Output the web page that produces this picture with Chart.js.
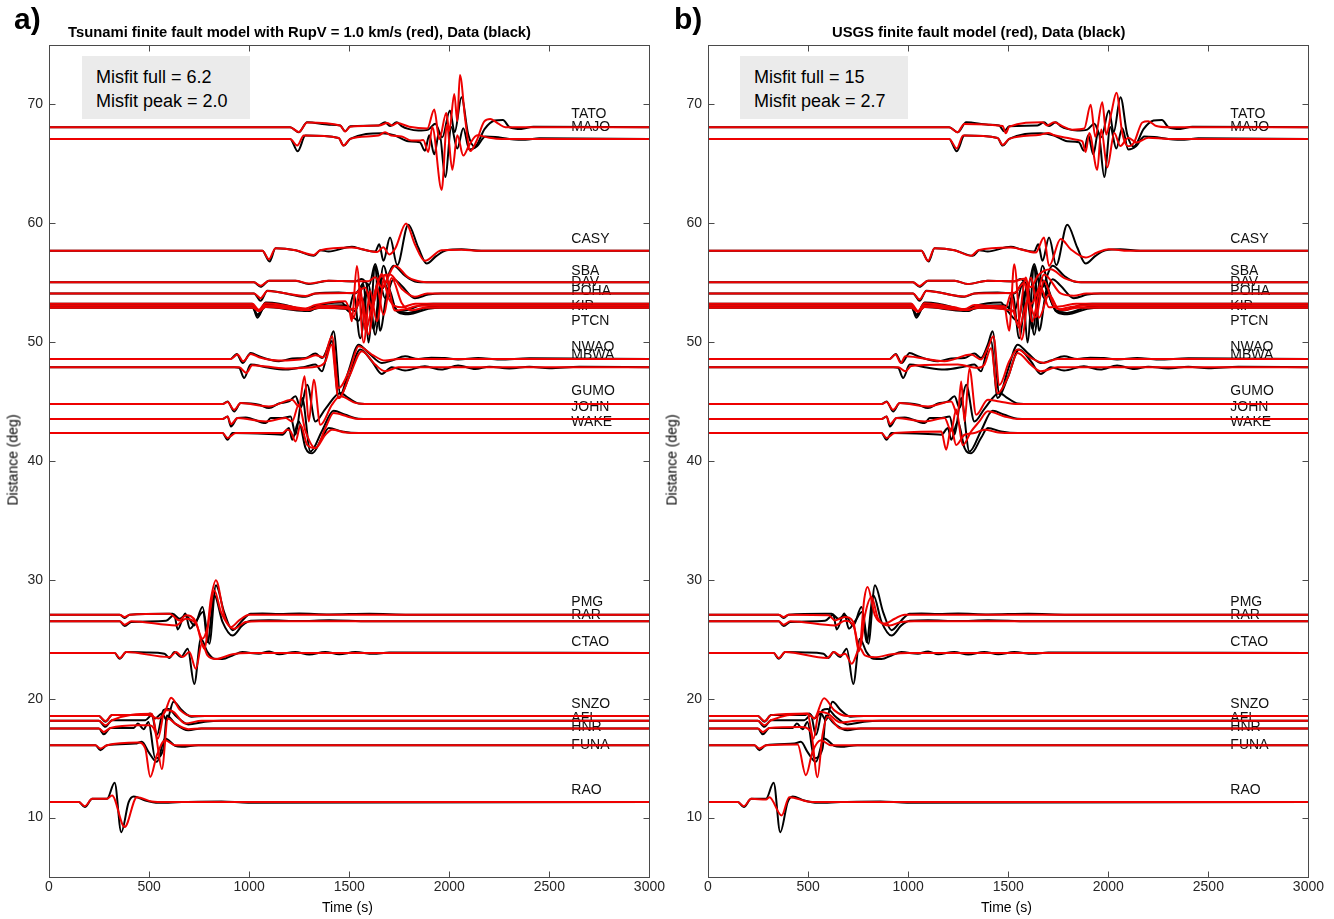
<!DOCTYPE html>
<html>
<head>
<meta charset="utf-8">
<script src="https://cdn.jsdelivr.net/npm/chart.js@4.4.1/dist/chart.umd.min.js"></script>
<style>
    body { margin: 0; background: #fff; width: 1334px; height: 919px; position: relative; overflow: hidden; font-family: "Liberation Sans", Arial, sans-serif; color: #000; }
    .panel { position: absolute; top: 0; width: 667px; height: 919px; }
    .letter { position: absolute; top: 2px; font-size: 30px; font-weight: bold; }
    .title { position: absolute; top: 24px; font-size: 14.8px; font-weight: bold; white-space: nowrap; }
    .misfit { position: absolute; top: 56px; width: 168px; height: 63px; background: #ebebeb; box-sizing: border-box; padding: 9px 0 0 14px; font-size: 18px; line-height: 24px; }
    .xtitle { position: absolute; top: 899px; font-size: 14px; }
    .ytitle { position: absolute; top: 452px; font-size: 14px; transform: rotate(-90deg); transform-origin: center; white-space: nowrap; }
</style>
</head>
<body>
<div class="panel" style="left:0"><canvas id="chartA" width="667" height="919"></canvas></div>
<div class="panel" style="left:659px"><canvas id="chartB" width="667" height="919"></canvas></div>

<div class="letter" style="left:14px">a)</div>
<div class="letter" style="left:674px">b)</div>
<div class="title" style="left:68px">Tsunami finite fault model with RupV = 1.0 km/s (red), Data (black)</div>
<div class="title" style="left:832px">USGS finite fault model (red), Data (black)</div>
<div class="misfit" style="left:82px">Misfit full = 6.2<br>Misfit peak = 2.0</div>
<div class="misfit" style="left:740px">Misfit full = 15<br>Misfit peak = 2.7</div>
<div class="xtitle" style="left:322px">Time (s)</div>
<div class="xtitle" style="left:981px">Time (s)</div>
<div class="ytitle" style="left:-33px">Distance (deg)</div>
<div class="ytitle" style="left:626px">Distance (deg)</div>

<script>
// axes
const xTicks = [0, 500, 1000, 1500, 2000, 2500, 3000];
const yTicks = [10, 20, 30, 40, 50, 60, 70];

// stations, trace baselines (deg) and label heights (deg)
const stations = ['TATO', 'MAJO', 'CASY', 'SBA', 'DAV', 'POHA', 'KIP', 'PTCN', 'NWAO', 'MBWA', 'GUMO', 'JOHN', 'WAKE',
    'PMG', 'RAR', 'CTAO', 'SNZO', 'AFI', 'HNR', 'FUNA', 'RAO'];
const baselines = [68.08, 67.1, 57.68, 55.03, 54.1, 53.23, 53.06, 52.9, 48.59, 47.89, 44.79, 43.53, 42.35,
    27.07, 26.51, 23.84, 18.54, 18.14, 17.49, 16.09, 11.3];
const labelAt = [69.16, 68.06, 58.63, 56.0, 55.09, 54.25, 53.07, 51.73, 49.6, 48.94, 45.9, 44.55, 43.3,
    28.14, 27.04, 24.76, 19.54, 18.36, 17.6, 16.08, 12.29];

// traces: [time (s), deflection from baseline (deg)]
// data (black), same in both panels
const obsTATO = [[0,0],[1205,0],[1248,-0.42],[1290,0.42],[1400,0.22],[1455,0.14],[1480,-0.34],[1505,0.08],[1646,0.14],[1679,0.42],[1704,0.1],[1737,0.42],[1762,0.1],[1795,-0.14],[1845,-0.28],[1895,-0.2],[1930,0.3],[1965,-0.84],[2003,1.41],[2027,-0.42],[2061,2.53],[2094,-0.56],[2127,-1.63],[2177,-0.14],[2226,0.56],[2268,0.62],[2301,0],[2360,-0.14],[2420,0.05],[3000,0]];
const obsMAJO = [[0,0],[1205,0],[1243,-1.04],[1281,0.28],[1447,0.08],[1472,-0.56],[1505,0],[1663,0.48],[1729,0.28],[1795,-0.2],[1853,-0.28],[1878,-1.0],[1900,0.3],[1925,-1.3],[1950,0.6],[1980,-3.2],[2010,1.0],[2040,-0.8],[2070,0.9],[2100,-0.9],[2140,-0.6],[2180,0.2],[2230,0.15],[2300,0],[2380,-0.08],[2450,0.05],[3000,0]];
const obsCASY = [[0,0],[1066,0],[1102,-0.9],[1132,0.22],[1232,0.05],[1323,-0.42],[1356,0.05],[1397,-0.05],[1513,0.34],[1563,0.14],[1630,-0.05],[1650,0.56],[1671,-0.84],[1704,1.12],[1740,-1.2],[1795,2.2],[1845,0.28],[1887,-1.07],[1936,-0.42],[1986,0.05],[2061,0.14],[2160,0],[3000,0]];
const obsSBA = [[0,0],[1024,0],[1057,-0.37],[1099,0.14],[1232,0.14],[1298,-0.14],[1397,0.14],[1530,0.08],[1563,0.28],[1600,-0.2],[1630,1.55],[1663,-0.56],[1721,1.4],[1779,0.56],[1828,0.08],[1900,0],[3000,0]];
const obsDAV = [[0,0],[1024,0],[1057,-0.62],[1091,0.22],[1150,0.1],[1281,-0.28],[1331,0],[1447,0.08],[1530,0],[1580,1.0],[1613,-1.5],[1646,1.3],[1679,-0.4],[1721,1.2],[1762,0.65],[1828,-0.4],[1895,-0.1],[1960,0],[3000,0]];
const obsPOHA = [[0,0],[1016,0],[1041,-1.0],[1082,0.1],[1150,0],[1232,-0.34],[1281,-0.56],[1331,-0.2],[1397,0.05],[1464,0.1],[1497,-0.6],[1522,0.8],[1555,-2.9],[1596,1.6],[1630,-2.6],[1671,3.2],[1712,0.3],[1746,-0.6],[1795,-0.5],[1860,-0.1],[1920,0],[3000,0]];
const obsKIP = [[0,0],[1016,0],[1041,-1.0],[1082,0.1],[1232,-0.22],[1298,-0.45],[1356,0],[1480,0.05],[1530,-0.45],[1572,1.8],[1596,-3.1],[1630,3.35],[1654,-2.1],[1696,1.5],[1737,-0.45],[1795,-0.6],[1895,-0.1],[1960,0],[3000,0]];
const obsPTCN = [[0,0],[1016,0],[1041,-0.56],[1082,0.05],[1281,-0.28],[1356,0],[1480,-0.1],[1547,-1.1],[1588,1.4],[1621,-1.8],[1663,2.5],[1696,1.3],[1746,-0.4],[1795,-0.56],[1895,-0.1],[1960,0],[3000,0]];
const obsNWAO = [[0,0],[908,0],[938,0.42],[967,-0.34],[1008,0.5],[1049,0.22],[1099,-0.05],[1149,-0.2],[1215,0.03],[1282,0.08],[1331,0.45],[1364,0.08],[1398,1.2],[1422,2.33],[1456,-3.0],[1497,-1.0],[1547,1.2],[1597,0.5],[1663,-0.34],[1713,-0.14],[1779,0.22],[1845,0],[1910,0.1],[1978,0.08],[2044,-0.05],[2144,0.08],[2250,-0.05],[2400,0.05],[3000,0]];
const obsMBWA = [[0,0],[925,0],[950,-0.05],[975,-0.9],[1008,0.22],[1083,0],[1182,-0.2],[1282,0.05],[1331,0.22],[1364,-0.34],[1389,1.07],[1414,2.2],[1447,-2.6],[1497,-0.9],[1555,1.5],[1613,0.5],[1663,-0.56],[1713,0],[1779,-0.28],[1878,0.08],[1960,-0.2],[2044,0.15],[2130,-0.15],[2200,0.05],[2300,-0.1],[2400,0.05],[2500,-0.08],[2650,0.05],[3000,0]];
const obsGUMO = [[0,0],[867,0],[892,0.22],[925,-0.62],[958,0.08],[1049,-0.05],[1099,-0.34],[1149,0.05],[1199,0.22],[1232,0.65],[1257,-0.34],[1290,1.63],[1331,-1.46],[1381,-0.4],[1456,0.93],[1497,0.5],[1547,0.05],[1620,0],[3000,0]];
const obsJOHN = [[0,0],[867,0],[892,0.22],[909,-0.62],[942,0.08],[983,0.14],[1083,-0.34],[1108,0.08],[1166,0.08],[1207,0.22],[1232,-1.3],[1265,1.77],[1306,-2.73],[1364,-1.0],[1422,0.7],[1481,0.36],[1547,0.03],[1600,0],[3000,0]];
const obsWAKE = [[0,0],[867,0],[892,-0.56],[917,0],[1099,-0.08],[1166,-0.14],[1199,0.42],[1215,-0.56],[1248,1.0],[1282,-1.27],[1315,-1.7],[1364,-0.42],[1398,0.42],[1464,0.14],[1547,0],[3000,0]];
const obsPMG = [[0,0],[353,0],[378,-0.28],[403,0],[585,0.08],[618,0.08],[651,-0.34],[684,-0.05],[726,-0.9],[767,0.65],[801,-2.45],[834,2.47],[875,0.22],[917,-1.3],[966,-0.48],[1008,0.08],[1066,0.1],[1150,0.05],[1250,0.1],[1400,0.02],[1600,0.08],[1800,0],[3000,0]];
const obsRAR = [[0,0],[353,0],[378,-0.4],[411,-0.05],[585,0.05],[626,0.56],[643,-0.68],[681,0.65],[704,-0.62],[734,0],[771,0.8],[792,-1.75],[826,2.2],[867,-0.05],[917,-1.2],[966,-0.34],[1008,0.05],[1100,0.1],[1250,0.02],[1400,0.1],[1600,0],[3000,0]];
const obsCTAO = [[0,0],[328,0],[353,-0.48],[386,0.08],[486,0.05],[577,-0.05],[602,-0.42],[627,0.08],[660,-0.34],[693,0.37],[726,-2.6],[759,1.2],[792,0.08],[826,-0.48],[867,-0.5],[917,-0.2],[966,0.08],[1049,-0.05],[1100,0.14],[1150,-0.1],[1230,0.1],[1300,-0.12],[1380,0.1],[1450,-0.1],[1530,0.08],[1620,-0.06],[1700,0.05],[3000,0]];
const obsSNZO = [[0,0],[249,0],[282,-0.48],[315,0.08],[481,0.08],[506,0.22],[531,-0.2],[564,0.22],[589,-0.34],[622,1.2],[663,0.5],[713,-0.05],[780,0],[3000,0]];
const obsAFI = [[0,0],[249,0],[282,-0.5],[315,0.05],[481,0.05],[514,0.48],[539,-1.2],[572,0.9],[597,1.0],[638,0.34],[696,-0.3],[779,-0.08],[860,0],[3000,0]];
const obsHNR = [[0,0],[249,0],[274,-0.48],[307,0.05],[423,0.05],[444,0.42],[473,-0.05],[497,0.56],[531,-2.5],[572,-1.7],[589,1.1],[630,0.42],[696,-0.14],[763,0],[3000,0]];
const obsFUNA = [[0,0],[232,0],[257,-0.42],[290,0],[431,0.14],[464,0.28],[497,-0.56],[539,-1.4],[580,0.56],[630,-0.05],[663,-0.14],[746,0],[3000,0]];
const obsRAO = [[0,0],[149,0],[179,-0.42],[216,0.28],[290,0.28],[328,1.63],[361,-2.53],[398,0],[423,0.48],[481,0.14],[547,-0.05],[663,0],[862,0.05],[995,-0.05],[3000,0]];

// tsunami finite fault model (red, panel a)
const tsuTATO = [[0,0],[1205,0],[1248,-0.4],[1290,0.4],[1455,0.15],[1480,-0.35],[1505,0.05],[1650,0.15],[1690,0.35],[1715,0.15],[1740,0.35],[1800,0.05],[1890,-0.1],[1925,1.5],[1950,-1.0],[1985,1.2],[2000,-0.3],[2025,2.8],[2040,0.5],[2053,4.4],[2080,0.6],[2105,-2.0],[2135,-1.2],[2175,0.5],[2205,0.7],[2245,0.3],[2280,0],[3000,0]];
const tsuMAJO = [[0,0],[1205,0],[1240,-0.56],[1273,0.28],[1447,0.08],[1472,-0.56],[1505,0],[1646,0.28],[1679,0.56],[1710,0.28],[1762,0.2],[1812,-0.14],[1853,-0.14],[1870,-0.1],[1895,-1.1],[1915,1.0],[1962,-4.3],[1988,1.2],[2015,-2.6],[2040,0.3],[2070,-1.4],[2100,-0.5],[2140,0.3],[2200,0.1],[2260,0],[3000,0]];
const tsuCASY = [[0,0],[1066,0],[1099,-0.7],[1132,0.22],[1232,0.05],[1323,-0.34],[1356,0.05],[1513,0.28],[1640,-0.1],[1670,0.3],[1700,-0.3],[1730,0.2],[1784,2.3],[1828,0.56],[1878,-0.84],[1961,0.05],[2061,0.1],[2150,0],[3000,0]];
const tsuSBA = [[0,0],[1024,0],[1057,-0.28],[1099,0.14],[1232,0.14],[1298,-0.1],[1397,0.14],[1530,0.1],[1596,0.1],[1630,0.42],[1663,-0.42],[1729,1.4],[1795,0.42],[1862,0.05],[1920,0],[3000,0]];
const tsuDAV = [[0,0],[1024,0],[1057,-0.4],[1091,0.2],[1281,-0.22],[1331,0],[1530,0.05],[1580,0.5],[1613,-1.2],[1654,1.35],[1704,1.6],[1762,0.4],[1828,-0.28],[1890,0],[3000,0]];
const tsuPOHA = [[0,0],[1016,0],[1049,-0.5],[1082,0.05],[1232,-0.3],[1281,-0.4],[1331,-0.1],[1480,0.22],[1522,-1.2],[1555,1.35],[1580,-2.2],[1630,1.1],[1663,2.5],[1696,0.5],[1762,-0.3],[1830,0],[3000,0]];
const tsuKIP = [[0,0],[1016,0],[1049,-0.45],[1082,0.05],[1232,-0.2],[1298,-0.35],[1356,0],[1497,-0.15],[1513,-1.3],[1538,3.35],[1572,-3.1],[1605,1.24],[1638,-1.3],[1679,2.6],[1729,-0.4],[1779,-0.3],[1850,0],[3000,0]];
const tsuPTCN = [[0,0],[1016,0],[1049,-0.28],[1082,0.05],[1281,-0.2],[1356,0],[1530,-0.1],[1563,0.84],[1596,-2.25],[1638,1.7],[1671,-0.6],[1712,2.5],[1762,0.4],[1812,-0.22],[1880,0],[3000,0]];
const tsuNWAO = [[0,0],[908,0],[942,0.37],[970,-0.2],[1008,0.42],[1049,0.14],[1149,-0.14],[1282,0.03],[1331,0.3],[1372,0.14],[1414,1.9],[1447,-2.45],[1505,-0.77],[1547,1.07],[1613,0.37],[1679,-0.14],[1746,0],[3000,0]];
const tsuMBWA = [[0,0],[950,0],[986,-0.48],[1016,0.17],[1182,-0.1],[1348,0.08],[1381,0.5],[1411,1.9],[1447,-2.6],[1505,-0.6],[1563,1.35],[1630,0.22],[1679,-0.34],[1746,0],[3000,0]];
const tsuGUMO = [[0,0],[867,0],[892,0.17],[925,-0.48],[958,0.08],[1099,-0.2],[1215,0.37],[1248,-0.2],[1277,2.33],[1298,-1.46],[1323,2.05],[1356,-1.75],[1414,-0.05],[1456,0.65],[1530,0.1],[1600,0],[3000,0]];
const tsuJOHN = [[0,0],[867,0],[892,0.22],[909,-0.42],[942,0.08],[1083,-0.2],[1182,0.08],[1215,-0.2],[1248,1.2],[1282,-1.04],[1331,-2.45],[1381,-0.76],[1422,0.5],[1490,0.22],[1547,0],[3000,0]];
const tsuWAKE = [[0,0],[867,0],[892,-0.42],[933,0],[1166,0],[1190,0.28],[1207,0.14],[1232,-0.7],[1257,0.7],[1290,-1.0],[1331,-1.27],[1381,-0.14],[1414,0.28],[1481,0.05],[1547,0],[3000,0]];
const tsuPMG = [[0,0],[353,0],[378,-0.2],[403,0],[602,0.08],[651,-0.48],[684,-0.05],[734,-0.62],[776,-2.87],[809,1.35],[834,2.9],[875,-0.05],[908,-1.04],[950,-0.48],[1000,0],[3000,0]];
const tsuRAR = [[0,0],[353,0],[378,-0.28],[411,0],[635,-0.34],[684,0.22],[734,-0.2],[767,-1.46],[792,-0.5],[826,2.6],[859,0.8],[925,-0.62],[983,-0.05],[1050,0],[3000,0]];
const tsuCTAO = [[0,0],[328,0],[353,-0.42],[386,0.08],[602,-0.34],[635,0.08],[668,-0.34],[701,0.08],[734,-1.32],[764,0.8],[792,-0.2],[834,-0.5],[917,-0.1],[1000,0],[3000,0]];
const tsuSNZO = [[0,0],[249,0],[282,-0.42],[315,0.08],[497,0.08],[547,-0.2],[580,0.37],[610,1.55],[655,0.5],[713,0],[3000,0]];
const tsuAFI = [[0,0],[249,0],[282,-0.37],[315,0.05],[514,0.6],[544,-1.5],[580,0.9],[622,0.76],[680,-0.22],[763,0],[3000,0]];
const tsuHNR = [[0,0],[249,0],[274,-0.28],[307,0.05],[448,0.28],[497,0.28],[531,-0.28],[564,-3.4],[594,0.84],[630,0.42],[696,-0.05],[760,0],[3000,0]];
const tsuFUNA = [[0,0],[232,0],[257,-0.28],[290,0],[448,0.22],[481,-0.28],[506,-2.67],[539,-0.84],[580,0.42],[630,0],[3000,0]];
const tsuRAO = [[0,0],[149,0],[179,-0.34],[216,0.28],[290,0.28],[315,0.56],[378,-2.1],[439,0.42],[514,0.05],[580,0],[3000,0]];

// USGS finite fault model (red, panel b)
const usgsTATO = [[0,0],[1205,0],[1247,-0.42],[1280,0.28],[1472,0.1],[1488,-0.5],[1505,0.05],[1671,0.42],[1695,0.15],[1729,0.42],[1770,0.1],[1820,-0.2],[1880,-0.1],[1912,1.9],[1935,-0.8],[1970,2.1],[1990,-0.6],[2015,1.2],[2041,2.9],[2070,-0.5],[2100,-1.6],[2128,-1.3],[2170,0.4],[2200,0.5],[2240,0.1],[2300,0],[3000,0]];
const usgsMAJO = [[0,0],[1205,0],[1243,-0.8],[1275,0.28],[1447,0.08],[1472,-0.5],[1505,0],[1660,0.35],[1700,0.5],[1730,0.3],[1790,0.1],[1850,-0.1],[1870,-0.2],[1887,-1.1],[1905,0.5],[1945,-2.6],[1965,0.8],[1995,-2.4],[2030,0.5],[2060,-0.6],[2100,0.1],[2140,-0.3],[2200,0.1],[2300,0],[3000,0]];
const usgsCASY = [[0,0],[1066,0],[1099,-0.84],[1132,0.22],[1232,0.05],[1315,-0.42],[1350,0.05],[1513,0.28],[1637,-0.14],[1679,1.12],[1704,-1.27],[1762,1.0],[1812,0.14],[1887,-0.56],[1945,-0.14],[2003,0.14],[2100,0],[3000,0]];
const usgsSBA = [[0,0],[1024,0],[1057,-0.3],[1099,0.14],[1232,0.14],[1298,-0.14],[1397,0.14],[1530,0.1],[1580,0.3],[1613,-0.4],[1650,0.6],[1712,1.1],[1780,0.35],[1840,0.05],[1900,0],[3000,0]];
const usgsDAV = [[0,0],[1024,0],[1057,-0.5],[1091,0.2],[1281,-0.25],[1331,0],[1530,0.05],[1580,0.9],[1613,-0.9],[1650,0.3],[1679,1.6],[1762,0],[1828,-0.2],[1890,0],[3000,0]];
const usgsPOHA = [[0,0],[1016,0],[1049,-0.6],[1082,0.05],[1232,-0.3],[1281,-0.45],[1331,-0.1],[1488,-0.3],[1513,0.8],[1547,-1.75],[1588,2.2],[1620,-1.5],[1663,1.35],[1704,-0.3],[1770,-0.2],[1840,0],[3000,0]];
const usgsKIP = [[0,0],[1016,0],[1049,-0.5],[1082,0.05],[1232,-0.2],[1298,-0.35],[1356,0],[1480,-0.05],[1505,-2.1],[1530,3.5],[1567,-2.85],[1613,2.36],[1654,-1.0],[1704,0.95],[1754,-0.3],[1812,-0.1],[1880,0],[3000,0]];
const usgsPTCN = [[0,0],[1016,0],[1049,-0.35],[1082,0.05],[1281,-0.2],[1356,0],[1522,-0.28],[1555,-1.7],[1596,0.6],[1637,-0.8],[1679,2.25],[1729,0.15],[1779,-0.2],[1850,0],[3000,0]];
const usgsNWAO = [[0,0],[908,0],[937,0.37],[963,-0.34],[986,0.22],[1182,-0.2],[1315,0.37],[1364,-0.05],[1398,0.93],[1426,1.9],[1456,-2.2],[1505,-0.2],[1547,0.8],[1613,0.08],[1679,-0.34],[1746,0],[3000,0]];
const usgsMBWA = [[0,0],[950,0],[986,-0.34],[1016,0.1],[1248,0.22],[1348,-0.05],[1381,0.22],[1414,1.6],[1447,-2.2],[1497,-0.9],[1547,1.2],[1613,0.22],[1663,-0.34],[1746,0],[3000,0]];
const usgsGUMO = [[0,0],[867,0],[892,0.17],[925,-0.48],[958,0.08],[1099,-0.2],[1215,0.22],[1248,-0.9],[1265,1.9],[1282,-1.46],[1306,3.0],[1340,-0.9],[1398,0.37],[1456,0.22],[1547,0],[3000,0]];
const usgsJOHN = [[0,0],[867,0],[892,0.22],[909,-0.42],[942,0.08],[1083,-0.2],[1182,0.08],[1215,-1.0],[1240,0.8],[1273,-2.2],[1315,-1.04],[1356,-0.2],[1398,0.65],[1481,0.22],[1547,0],[3000,0]];
const usgsWAKE = [[0,0],[867,0],[892,-0.42],[933,0],[1166,0.14],[1190,-1.4],[1215,0.42],[1240,-1.0],[1282,-0.14],[1331,0],[1381,0.28],[1450,0.05],[1530,0],[3000,0]];
const usgsPMG = [[0,0],[353,0],[378,-0.2],[403,0],[602,-0.05],[635,-0.48],[684,-0.2],[726,-0.62],[754,-3.1],[781,1.35],[797,2.33],[834,-0.05],[883,-0.75],[933,-0.34],[983,0],[3000,0]];
const usgsRAR = [[0,0],[353,0],[378,-0.28],[411,0],[635,-0.34],[684,0.05],[726,-0.34],[759,-2.3],[784,0.5],[817,2.05],[850,0.22],[908,-0.34],[966,-0.05],[1030,0],[3000,0]];
const usgsCTAO = [[0,0],[328,0],[353,-0.42],[386,0.08],[594,-0.42],[630,0.08],[660,-0.2],[685,-0.05],[718,-0.9],[759,0.4],[784,-0.2],[834,-0.35],[917,-0.1],[1000,0],[3000,0]];
const usgsSNZO = [[0,0],[249,0],[282,-0.42],[315,0.08],[497,0.22],[530,-0.2],[580,1.5],[630,0.5],[696,0],[3000,0]];
const usgsAFI = [[0,0],[249,0],[282,-0.37],[315,0.05],[497,0.6],[527,-1.5],[555,0.76],[597,0.62],[663,-0.14],[740,0],[3000,0]];
const usgsHNR = [[0,0],[249,0],[274,-0.28],[307,0.05],[464,0.14],[514,-0.28],[547,-4.1],[572,-0.56],[597,1.0],[663,0],[740,0],[3000,0]];
const usgsFUNA = [[0,0],[232,0],[257,-0.28],[290,0],[448,0.05],[489,-2.53],[522,-0.56],[564,0.42],[614,0],[3000,0]];
const usgsRAO = [[0,0],[149,0],[179,-0.34],[216,0.28],[290,0.22],[307,0.42],[368,-1.13],[406,0.42],[497,0.05],[560,0],[3000,0]];

const dataTraces = [obsTATO, obsMAJO, obsCASY, obsSBA, obsDAV, obsPOHA, obsKIP, obsPTCN, obsNWAO, obsMBWA, obsGUMO, obsJOHN, obsWAKE,
    obsPMG, obsRAR, obsCTAO, obsSNZO, obsAFI, obsHNR, obsFUNA, obsRAO];
const tsunamiTraces = [tsuTATO, tsuMAJO, tsuCASY, tsuSBA, tsuDAV, tsuPOHA, tsuKIP, tsuPTCN, tsuNWAO, tsuMBWA, tsuGUMO, tsuJOHN, tsuWAKE,
    tsuPMG, tsuRAR, tsuCTAO, tsuSNZO, tsuAFI, tsuHNR, tsuFUNA, tsuRAO];
const usgsTraces = [usgsTATO, usgsMAJO, usgsCASY, usgsSBA, usgsDAV, usgsPOHA, usgsKIP, usgsPTCN, usgsNWAO, usgsMBWA, usgsGUMO, usgsJOHN, usgsWAKE,
    usgsPMG, usgsRAR, usgsCTAO, usgsSNZO, usgsAFI, usgsHNR, usgsFUNA, usgsRAO];

const AXIS_COLOR = '#4a4a4a';
const TICK_FONT = { family: '"Liberation Sans", Arial, sans-serif', size: 14 };

function toPoints(trace, base) {
    return trace.map(([t, d]) => ({ x: t, y: base + d }));
}

function buildDatasets(modelTraces) {
    const sets = [];
    stations.forEach((name, i) => {
        sets.push({ label: name + ' data', data: toPoints(dataTraces[i], baselines[i]), borderColor: '#000000', order: 1 });
        sets.push({ label: name + ' model', data: toPoints(modelTraces[i], baselines[i]), borderColor: '#ee0000', order: 0 });
    });
    return sets;
}

// station names under the traces, box and inward ticks on top
const framePlugin = {
    id: 'frame',
    beforeDatasetsDraw(chart) {
        const { ctx, scales: { x, y } } = chart;
        ctx.save();
        ctx.fillStyle = '#111';
        ctx.font = '14px "Liberation Sans", Arial, sans-serif';
        ctx.textBaseline = 'middle';
        stations.forEach((name, i) => ctx.fillText(name, x.getPixelForValue(2610), y.getPixelForValue(labelAt[i])));
        ctx.restore();
    },
    afterDatasetsDraw(chart) {
        const { ctx, chartArea: a, scales: { x, y } } = chart;
        const L = Math.round(a.left) + 0.5, R = Math.round(a.right) + 0.5;
        const T = Math.round(a.top) + 0.5, B = Math.round(a.bottom) + 0.5;
        ctx.save();
        ctx.strokeStyle = AXIS_COLOR;
        ctx.lineWidth = 1;
        ctx.strokeRect(L, T, R - L, B - T);
        ctx.beginPath();
        xTicks.forEach(v => {
            const px = Math.round(x.getPixelForValue(v)) + 0.5;
            ctx.moveTo(px, B); ctx.lineTo(px, B - 6);
            ctx.moveTo(px, T); ctx.lineTo(px, T + 6);
        });
        yTicks.forEach(v => {
            const py = Math.round(y.getPixelForValue(v)) + 0.5;
            ctx.moveTo(L, py); ctx.lineTo(L + 6, py);
            ctx.moveTo(R, py); ctx.lineTo(R - 6, py);
        });
        ctx.stroke();
        ctx.restore();
    },
};

function makeChart(id, modelTraces) {
    return new Chart(document.getElementById(id), {
        type: 'line',
        data: { datasets: buildDatasets(modelTraces) },
        options: {
            responsive: false,
            animation: false,
            events: [],
            layout: { padding: { top: 45, right: 15, left: 0, bottom: 0 } },
            elements: {
                point: { radius: 0 },
                line: { borderWidth: 2, cubicInterpolationMode: 'monotone', fill: false },
            },
            plugins: { legend: { display: false }, tooltip: { enabled: false } },
            scales: {
                x: {
                    type: 'linear', min: 0, max: 3000,
                    afterBuildTicks: s => { s.ticks = xTicks.map(v => ({ value: v })); },
                    afterFit: s => { s.height = 42; },
                    grid: { display: false, drawTicks: false }, border: { display: false },
                    ticks: { padding: 2, font: TICK_FONT, color: '#262626', maxRotation: 0, autoSkip: false, callback: v => String(v) },
                },
                y: {
                    type: 'linear', min: 5, max: 75,
                    afterBuildTicks: s => { s.ticks = yTicks.map(v => ({ value: v })); },
                    afterFit: s => { s.width = 49; },
                    grid: { display: false, drawTicks: false }, border: { display: false },
                    ticks: { padding: 6, font: TICK_FONT, color: '#262626', autoSkip: false, callback: v => String(v) },
                },
            },
        },
        plugins: [framePlugin],
    });
}

makeChart('chartA', tsunamiTraces);
makeChart('chartB', usgsTraces);
</script>
</body>
</html>
